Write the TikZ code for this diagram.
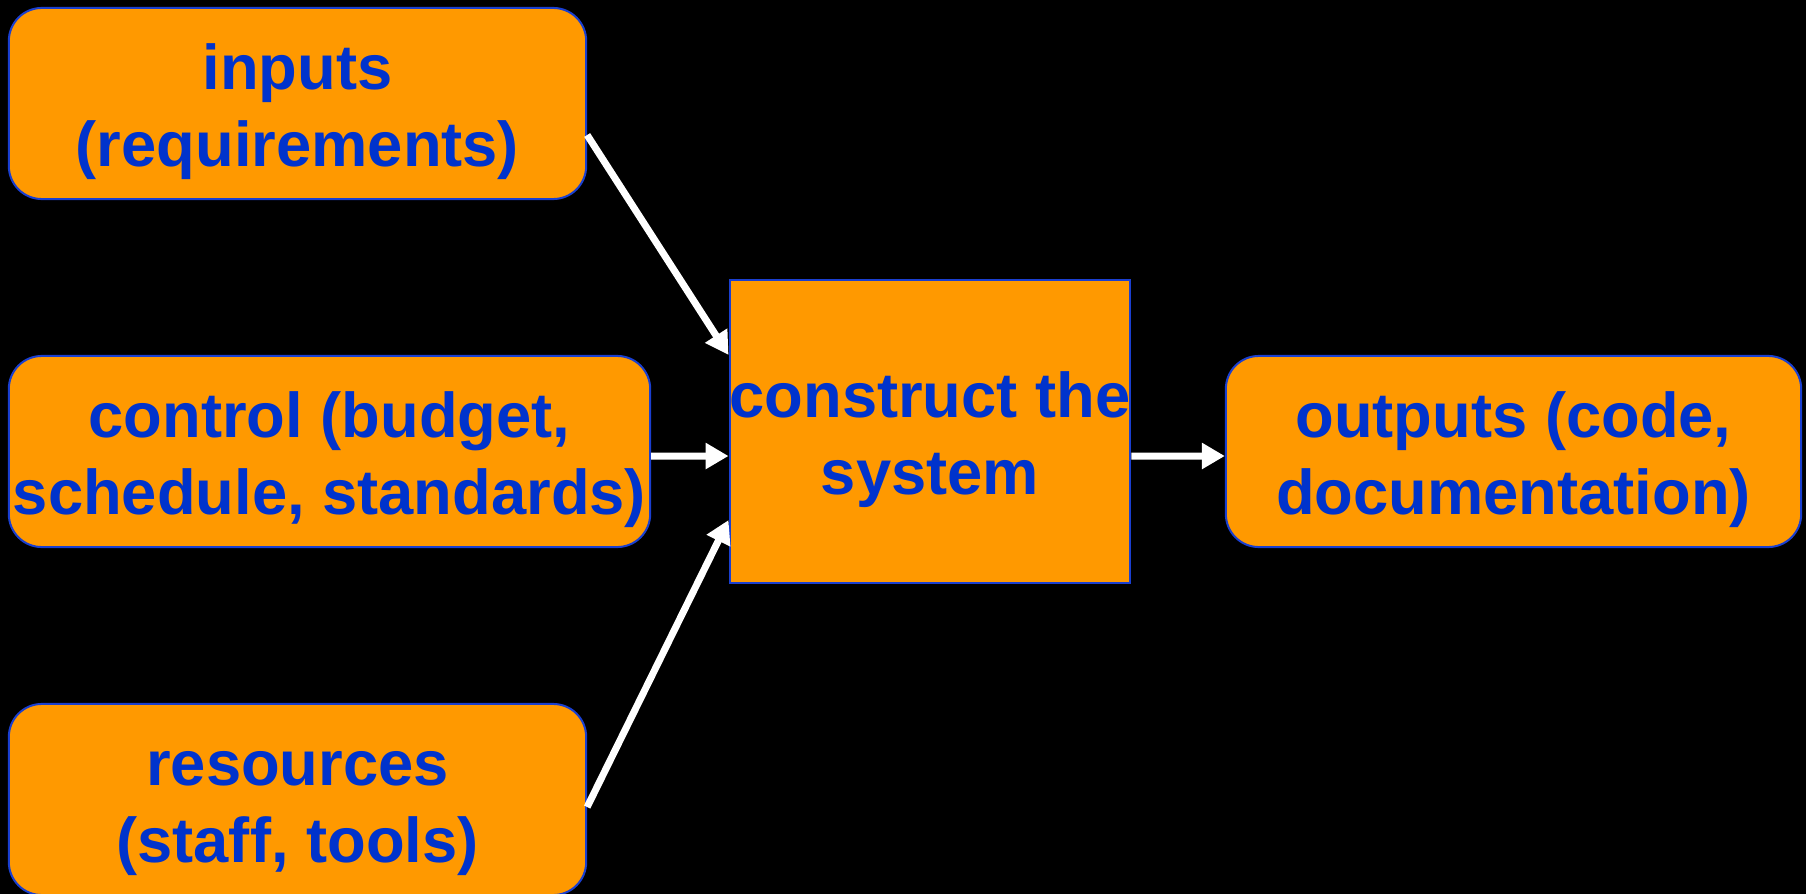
\documentclass[tikz,border=0pt]{standalone}
\usepackage{fontspec}
\setmainfont{Liberation Sans}
\usepackage{tikz}
\usetikzlibrary{arrows.meta}
\definecolor{boxorange}{HTML}{FF9900}
\definecolor{textblue}{HTML}{0033CC}
\definecolor{lineblue}{HTML}{1A3FD0}
\newcommand{\twolines}[2]{\rule{0pt}{18.7pt}#1\\#2\rule[-5pt]{0pt}{5pt}} % 2行の文字、高さをそろえる

\begin{document}
\begin{tikzpicture}[x=0.01cm, y=-0.01cm, % 1単位 = 画像の1px
  box/.style={draw=lineblue, line width=0.02cm, fill=boxorange, text=textblue,
    font=\bfseries\fontsize{18}{21.9}\selectfont, align=center, inner sep=0pt,
    minimum height=1.91cm, rounded corners=0.33cm},
  mainbox/.style={box, sharp corners, minimum width=4cm, minimum height=3.03cm},
  flow/.style={draw=white, line width=0.07cm, -{Triangle[length=0.23cm,width=0.25cm]}}]
  \fill[black] (0,0) rectangle (1806,894); % 背景
  \useasboundingbox (0,0) rectangle (1806,894); % 画像の大きさ

  \node[box, minimum width=5.77cm] (inputs) at (297.5,103.5) {\twolines{inputs}{(requirements)}}; % 入力
  \node[box, minimum width=6.41cm] (control) at (329.5,451.5) {\twolines{control (budget,}{schedule, standards)}}; % 制御
  \node[box, minimum width=5.77cm] (resources) at (297.5,799.5) {\twolines{resources}{(staff, tools)}}; % 資源
  \node[mainbox] (construct) at (930,431.5) {\twolines{construct the}{system}}; % 中央の箱
  \node[box, minimum width=5.75cm] (outputs) at (1513.5,451.5) {\twolines{outputs (code,}{documentation)}}; % 出力

  \draw[flow] ([yshift=-0.315cm]inputs.east) -- ([yshift=0.765cm]construct.west); % 上の矢印
  \draw[flow] ([yshift=-0.045cm]control.east) -- ([yshift=-0.245cm]construct.west);
  \draw[flow] ([yshift=-0.075cm]resources.east) -- ([yshift=-0.885cm]construct.west); % 下の矢印
  \draw[flow] ([yshift=-0.245cm]construct.east) -- ([yshift=-0.045cm]outputs.west); % 出力へ
\end{tikzpicture}
\end{document}
